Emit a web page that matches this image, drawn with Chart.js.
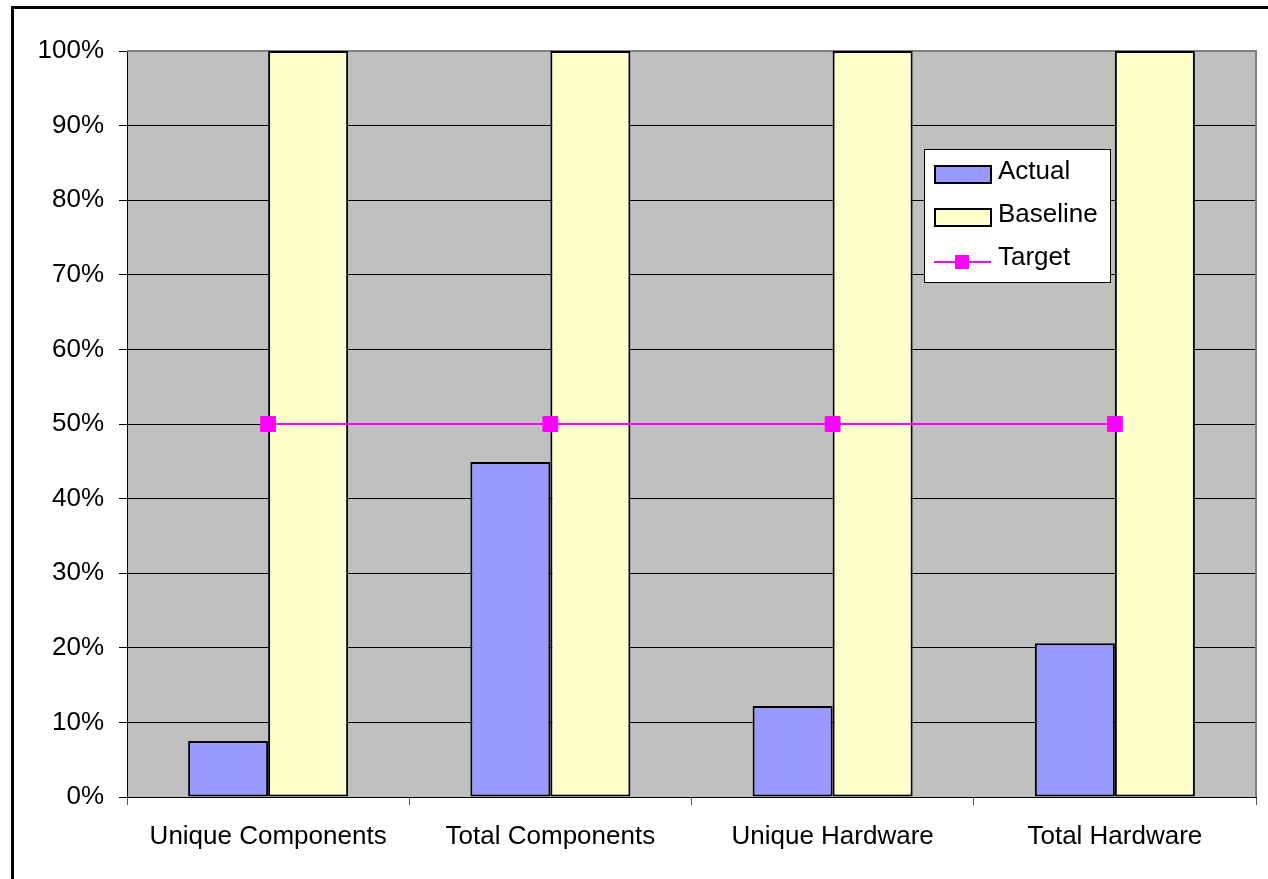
<!DOCTYPE html>
<html>
<head>
<meta charset="utf-8">
<script src="https://cdn.jsdelivr.net/npm/chart.js@4.4.1/dist/chart.umd.min.js"></script>
<style>
  html, body { margin: 0; padding: 0; background: #ffffff; }
  #wrap { position: relative; width: 1268px; height: 879px; overflow: hidden; }
  canvas { display: block; }
</style>
</head>
<body>
<div id="wrap"><canvas id="c" width="1268" height="879"></canvas></div>
<script>
const categories = ['Unique Components', 'Total Components', 'Unique Hardware', 'Total Hardware'];
const actualValues = [7.5, 44.9, 12.2, 20.6];
const baselineValues = [100, 100, 100, 100];
const targetValues = [50, 50, 50, 50];
const seriesNames = ['Actual', 'Baseline', 'Target'];

const FONT = "'Liberation Sans', Arial, sans-serif";

const framePlugin = {
  id: 'frame',
  beforeDraw(chart) {
    const ctx = chart.ctx;
    const a = chart.chartArea;
    ctx.save();
    ctx.fillStyle = '#ffffff';
    ctx.fillRect(0, 0, chart.width, chart.height);
    ctx.fillStyle = '#C0C0C0';
    ctx.fillRect(a.left, a.top, a.right - a.left, a.bottom - a.top);
    ctx.restore();
  },
  beforeDatasetsDraw(chart) {
    const ctx = chart.ctx;
    const a = chart.chartArea;
    ctx.save();
    ctx.strokeStyle = '#808080';
    ctx.lineWidth = 2;
    ctx.beginPath();
    ctx.moveTo(a.left, a.top);
    ctx.lineTo(a.right, a.top);
    ctx.lineTo(a.right, a.bottom);
    ctx.stroke();
    ctx.restore();
  },
  afterDraw(chart) {
    const ctx = chart.ctx;
    ctx.save();
    ctx.strokeStyle = '#000000';
    ctx.lineWidth = 3;
    ctx.strokeRect(12.5, 7.5, 1400, 1000);

    const bx = 924, by = 149, bw = 186, bh = 133;
    ctx.fillStyle = '#ffffff';
    ctx.fillRect(bx, by, bw, bh);
    ctx.strokeStyle = '#000000';
    ctx.lineWidth = 1;
    ctx.strokeRect(bx + 0.5, by + 0.5, bw, bh);

    const ds = chart.data.datasets;
    const rows = [172, 215, 258];
    ctx.font = '26px ' + FONT;
    ctx.textBaseline = 'middle';
    ctx.textAlign = 'left';
    for (let i = 0; i < ds.length; i++) {
      const y = rows[i];
      if (ds[i].type === 'line') {
        ctx.strokeStyle = ds[i].borderColor;
        ctx.lineWidth = 2;
        ctx.beginPath();
        ctx.moveTo(934, y + 4);
        ctx.lineTo(991, y + 4);
        ctx.stroke();
        ctx.fillStyle = ds[i].pointBackgroundColor;
        ctx.fillRect(955, y - 3, 14, 14);
      } else {
        ctx.fillStyle = ds[i].backgroundColor;
        ctx.fillRect(935, y - 6, 56, 17);
        ctx.strokeStyle = '#000000';
        ctx.lineWidth = 2;
        ctx.strokeRect(935, y - 6, 56, 17);
      }
      ctx.fillStyle = '#000000';
      ctx.fillText(ds[i].label, 998, y);
    }
    ctx.restore();
  }
};

new Chart(document.getElementById('c'), {
  data: {
    labels: categories,
    datasets: [
      {
        type: 'bar',
        label: seriesNames[0],
        data: actualValues,
        backgroundColor: '#9999FF',
        borderColor: '#000000',
        borderWidth: 2,
        borderSkipped: false,
        categoryPercentage: 0.567,
        barPercentage: 1.0,
        order: 2
      },
      {
        type: 'bar',
        label: seriesNames[1],
        data: baselineValues,
        backgroundColor: '#FFFFCC',
        borderColor: '#000000',
        borderWidth: 2,
        borderSkipped: false,
        categoryPercentage: 0.567,
        barPercentage: 1.0,
        order: 2
      },
      {
        type: 'line',
        label: seriesNames[2],
        data: targetValues,
        borderColor: '#FF00FF',
        borderWidth: 2,
        pointStyle: 'rect',
        pointRadius: 10.5,
        pointBackgroundColor: '#FF00FF',
        pointBorderColor: '#FF00FF',
        pointBorderWidth: 1,
        fill: false,
        tension: 0,
        order: 1
      }
    ]
  },
  options: {
    responsive: false,
    animation: false,
    events: [],
    layout: { padding: { left: 0, top: 51, right: 12, bottom: 0 } },
    plugins: {
      legend: { display: false },
      title: { display: false },
      tooltip: { enabled: false }
    },
    scales: {
      x: {
        type: 'category',
        offset: true,
        grid: {
          offset: true,
          drawOnChartArea: false,
          drawTicks: true,
          tickLength: 8,
          tickColor: '#555555',
          tickWidth: 1
        },
        border: { display: true, color: '#000000', width: 1 },
        ticks: {
          color: '#000000',
          font: { family: FONT, size: 26 },
          padding: 16,
          maxRotation: 0,
          autoSkip: false
        },
        afterFit(scale) { scale.height = 82; }
      },
      y: {
        min: 0,
        max: 100,
        grid: {
          color: '#000000',
          lineWidth: 1,
          drawTicks: true,
          tickLength: 8,
          tickColor: '#000000'
        },
        border: { display: true, color: '#000000', width: 1 },
        ticks: {
          stepSize: 10,
          color: '#000000',
          font: { family: FONT, size: 26 },
          padding: 15,
          callback: (v) => v + '%'
        },
        afterFit(scale) { scale.width = 127; }
      }
    }
  },
  plugins: [framePlugin]
});
</script>
</body>
</html>
